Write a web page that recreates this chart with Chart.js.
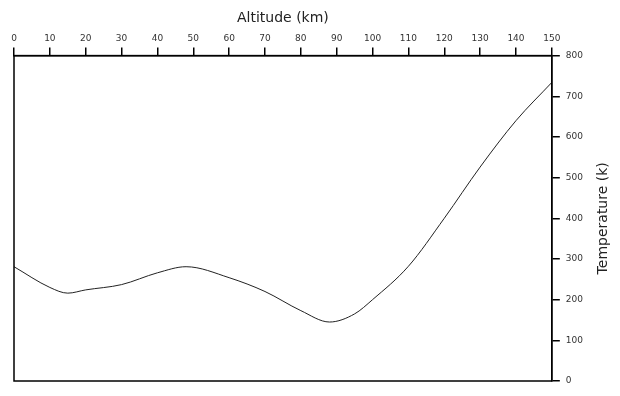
<!DOCTYPE html>
<html>
<head>
<meta charset="utf-8">
<script src="https://cdn.jsdelivr.net/npm/chart.js@4/dist/chart.umd.min.js"></script>
<style>
  html, body { margin: 0; padding: 0; background: #fff; }
  #wrap { width: 620px; height: 396px; }
</style>
</head>
<body>
<div id="wrap"><canvas id="atmChart"></canvas></div>
<script>
// Altitude (km) vs temperature (K)
const altitudes = [0, 10, 15, 20, 30, 40, 48, 60, 70, 80, 88, 95, 100, 110, 120, 130, 140, 150];
const temperatures = [281, 230, 216, 224, 237, 266, 281, 254, 220, 173, 145, 165, 200, 282, 400, 526, 640, 734];
const altitudeTicks = [0, 10, 20, 30, 40, 50, 60, 70, 80, 90, 100, 110, 120, 130, 140, 150];
const temperatureTicks = [0, 100, 200, 300, 400, 500, 600, 700, 800];
const yTitle = 'Temperature (k)';

const points = altitudes.map((a, i) => ({ x: a, y: temperatures[i] }));

// frame round the plot + y title reading upwards
const framePlugin = {
    id: 'frame',
    afterDraw(chart) {
        const { ctx, chartArea: a } = chart;
        ctx.save();
        ctx.strokeStyle = '#000';
        ctx.lineWidth = 1.5;
        ctx.strokeRect(a.left, a.top, a.right - a.left, a.bottom - a.top);
        ctx.translate(603, (a.top + a.bottom) / 2);
        ctx.rotate(-Math.PI / 2);
        ctx.fillStyle = '#222';
        ctx.font = '14px "DejaVu Sans"';
        ctx.textAlign = 'center';
        ctx.textBaseline = 'middle';
        ctx.fillText(yTitle, 0, 0);
        ctx.restore();
    }
};

const ctx = document.getElementById('atmChart').getContext('2d');
const chart = new Chart(ctx, {
    type: 'line',
    data: {
        datasets: [{
            data: points,
            borderColor: '#222',
            borderWidth: 1,
            pointRadius: 0,
            cubicInterpolationMode: 'monotone',
            fill: false,
        }]
    },
    options: {
        responsive: true,
        maintainAspectRatio: false,
        animation: false,
        layout: { padding: { left: 14, bottom: 15, top: 10, right: 31 } },
        plugins: { legend: { display: false }, tooltip: { enabled: false } },
        scales: {
            x: {
                type: 'linear',
                position: 'top',
                min: 0,
                max: 150,
                afterBuildTicks: (s) => { s.ticks = altitudeTicks.map(v => ({ value: v })); },
                grid: { drawOnChartArea: false, drawTicks: true, tickLength: 8, color: '#000', lineWidth: 1.5 },
                border: { display: true, color: '#000', width: 1.5 },
                ticks: { color: '#333', font: { family: 'DejaVu Sans', size: 9 }, padding: 4, maxRotation: 0 },
                title: { display: true, text: 'Altitude (km)', color: '#222', font: { family: 'DejaVu Sans', size: 14 }, padding: { top: 0, bottom: 2 } }
            },
            y: {
                type: 'linear',
                position: 'right',
                min: 0,
                max: 800,
                afterBuildTicks: (s) => { s.ticks = temperatureTicks.map(v => ({ value: v })); },
                grid: { drawOnChartArea: false, drawTicks: true, tickLength: 8, color: '#000', lineWidth: 1.5 },
                border: { display: true, color: '#000', width: 1.5 },
                ticks: { color: '#333', font: { family: 'DejaVu Sans', size: 9 }, padding: 6 },
                title: { display: false }
            }
        }
    },
    plugins: [framePlugin]
});
</script>
</body>
</html>
